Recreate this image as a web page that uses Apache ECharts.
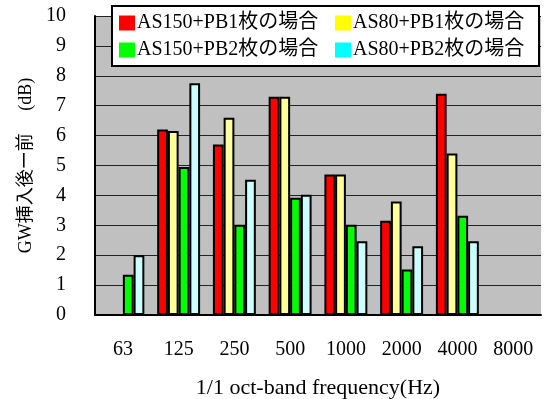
<!DOCTYPE html>
<html><head><meta charset="utf-8">
<script src="https://cdn.jsdelivr.net/npm/echarts@6/dist/echarts.min.js"></script>
<style>html,body{margin:0;padding:0;background:#fff}#c{width:544px;height:399px}</style>
</head><body><div id="c"></div>
<script>
// Octave-band centre frequencies
const categories = ['63', '125', '250', '500', '1000', '2000', '4000', '8000'];
// Level difference after GW insertion (dB)
const as150pb1 = [null, 6.2, 5.7, 7.3, 4.7, 3.15, 7.4, null];
const as80pb1  = [null, 6.15, 6.6, 7.3, 4.7, 3.8, 5.4, null];
const as150pb2 = [1.35, 4.95, 3.02, 3.92, 3.02, 1.52, 3.32, null];
const as80pb2  = [2.0, 7.75, 4.52, 4.02, 2.47, 2.3, 2.47, null];
const seriesNames = ['AS150+PB1枚の場合', 'AS80+PB1枚の場合', 'AS150+PB2枚の場合', 'AS80+PB2枚の場合'];
const barColors = ['#ff0000', '#ffff99', '#00ff00', '#ccffff'];
const legendColors = ['#ff0000', '#ffff00', '#00ff00', '#00ffff'];
const yMin = 0, yMax = 10, yStep = 1;

const FONT = "'Liberation Serif','Noto Sans CJK JP',serif";
const chart = echarts.init(document.getElementById('c'), null, { renderer: 'canvas' });
const values = [as150pb1, as80pb1, as150pb2, as80pb2];

const legendPos = [[119, 13], [335, 13], [119, 40], [335, 40]];
const legends = seriesNames.map((n, i) => ({
  left: legendPos[i][0], top: legendPos[i][1], padding: 0, z: 20,
  itemWidth: 16, itemHeight: 15, icon: 'rect', selectedMode: false,
  textStyle: { fontFamily: FONT, fontSize: 20, color: '#000', padding: [0, 0, 0, -3] },
  data: [{ name: n, itemStyle: { color: legendColors[i], borderWidth: 0 } }]
}));

chart.setOption({
  animation: false,
  textStyle: { fontFamily: FONT },
  graphic: [{
    type: 'rect', z: 10, left: 111, top: 5,
    shape: { width: 427, height: 60 },
    style: { fill: '#fff', stroke: '#000', lineWidth: 2 }
  }],
  legend: legends,
  grid: {
    left: 95, right: 3, top: 16, bottom: 84, containLabel: false, outerBoundsMode: 'none',
    show: true, backgroundColor: '#c0c0c0', borderWidth: 0
  },
  xAxis: {
    type: 'category', data: categories,
    axisLine: { lineStyle: { color: '#000', width: 2 } },
    axisTick: { inside: true, length: 5, lineStyle: { color: '#000' } },
    axisLabel: { fontFamily: FONT, fontSize: 20, color: '#000', margin: 25 },
    name: '1/1 oct-band frequency(Hz)', nameLocation: 'middle', nameGap: 62,
    nameTextStyle: { fontFamily: FONT, fontSize: 22, color: '#000' }
  },
  yAxis: {
    type: 'value', min: yMin, max: yMax, interval: yStep,
    axisLine: { show: true, lineStyle: { color: '#000', width: 2 } },
    axisTick: { show: false },
    axisLabel: { fontFamily: FONT, fontSize: 20, color: '#000', margin: 29 },
    splitLine: { lineStyle: { color: '#222', width: 1 } },
    name: 'GW挿入後ー前　 (dB)', nameLocation: 'middle', nameGap: 53, nameRotate: 90,
    nameTextStyle: { fontFamily: FONT, fontSize: 18, color: '#000' }
  },
  series: values.map((v, i) => ({
    type: 'bar', name: seriesNames[i], data: v,
    barGap: '0%', barCategoryGap: '23%',
    itemStyle: { color: barColors[i], borderColor: '#000', borderWidth: 2 }
  }))
});
</script></body></html>
